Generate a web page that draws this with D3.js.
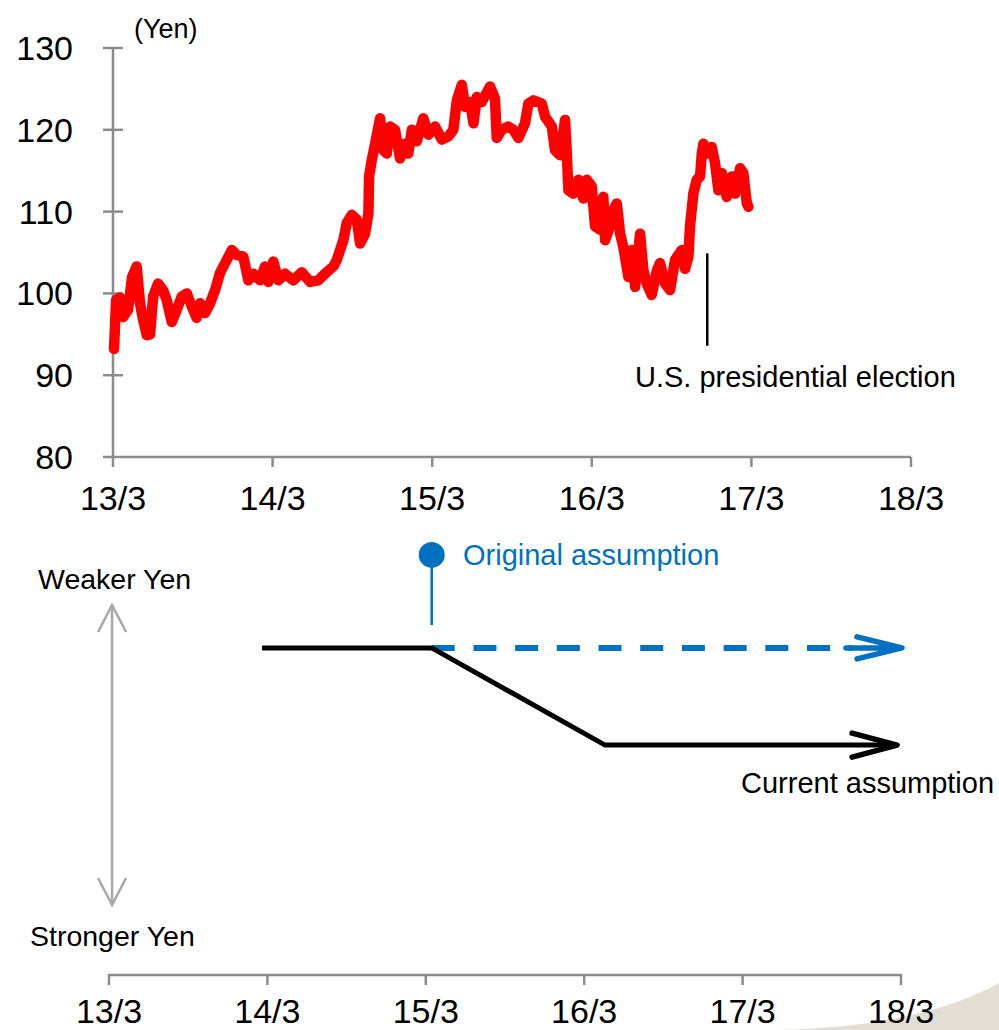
<!DOCTYPE html>
<html><head><meta charset="utf-8">
<script src="https://cdn.jsdelivr.net/npm/d3@7"></script>
<style>
body{margin:0;background:#fff}
svg{display:block;font-family:"Liberation Sans",Arial,Helvetica,sans-serif}
</style>
</head><body>
<svg id="c" width="999" height="1030"></svg>
<script>
// ---- Data (decimal years, yen per dollar) ----
const rateTime = [2013.173,2013.186,2013.211,2013.230,2013.261,2013.286,2013.315,2013.336,2013.353,2013.378,2013.399,2013.418,2013.449,2013.480,2013.503,2013.535,2013.566,2013.597,2013.629,2013.660,2013.691,2013.712,2013.743,2013.775,2013.806,2013.837,2013.869,2013.911,2013.942,2013.983,2014.015,2014.046,2014.088,2014.119,2014.140,2014.171,2014.203,2014.245,2014.297,2014.349,2014.401,2014.453,2014.506,2014.547,2014.569,2014.610,2014.631,2014.663,2014.694,2014.715,2014.746,2014.767,2014.771,2014.788,2014.809,2014.840,2014.861,2014.882,2014.903,2014.934,2014.965,2014.997,2015.017,2015.039,2015.070,2015.111,2015.143,2015.185,2015.227,2015.268,2015.299,2015.321,2015.352,2015.373,2015.404,2015.425,2015.446,2015.477,2015.529,2015.560,2015.571,2015.602,2015.644,2015.675,2015.707,2015.748,2015.769,2015.801,2015.853,2015.874,2015.916,2015.936,2015.968,2015.999,2016.010,2016.020,2016.051,2016.082,2016.114,2016.135,2016.166,2016.187,2016.218,2016.239,2016.250,2016.281,2016.302,2016.323,2016.344,2016.364,2016.396,2016.417,2016.438,2016.469,2016.490,2016.511,2016.542,2016.574,2016.594,2016.626,2016.657,2016.688,2016.730,2016.751,2016.772,2016.782,2016.803,2016.824,2016.845,2016.856,2016.866,2016.897,2016.918,2016.939,2016.960,2016.981,2017.012,2017.044,2017.064,2017.096,2017.116,2017.138,2017.148];
const rateValue = [93.2,99.2,99.5,97.1,98.0,102.0,103.3,98.8,97.0,94.9,95.0,99.6,101.2,100.4,99.2,96.5,98.0,99.6,100.0,98.4,97.0,98.8,97.6,98.8,100.4,102.5,103.7,105.3,104.7,104.5,101.6,102.4,101.6,103.3,101.4,103.9,101.6,102.4,101.6,102.6,101.4,101.6,102.6,103.3,104.1,106.5,108.6,109.6,109.0,106.1,107.3,109.8,114.3,116.3,118.3,121.4,117.5,117.1,120.4,120.0,116.5,118.3,117.1,120.0,118.6,121.4,119.4,120.4,118.8,119.2,120.0,123.6,125.5,122.8,123.4,120.8,124.0,123.4,125.3,123.8,119.0,120.0,120.4,120.0,119.0,120.8,123.2,123.6,123.2,121.6,120.4,117.5,116.9,121.2,117.2,112.6,112.2,113.9,111.6,113.9,113.1,108.2,107.8,111.8,106.5,108.2,110.2,111.0,107.3,105.7,102.0,105.3,100.8,107.3,102.8,101.2,99.8,102.8,103.7,101.2,100.4,104.1,105.3,103.0,104.5,108.2,112.2,113.9,114.3,117.1,118.3,117.1,117.9,115.9,112.6,114.7,111.8,114.3,112.2,115.3,114.7,111.0,110.6];

const yTickValues = [80, 90, 100, 110, 120, 130];
const xTickValues = [2013 + 2/12, 2014 + 2/12, 2015 + 2/12, 2016 + 2/12, 2017 + 2/12, 2018 + 2/12];
const xTickLabels = ["13/3", "14/3", "15/3", "16/3", "17/3", "18/3"];

const electionTime = 2016.89;
const electionRange = [93.6, 104.9];
const electionLabel = "U.S. presidential election";
const yUnitLabel = "(Yen)";

// schematic (bottom panel): level index 0 = stronger yen, 10 = weaker yen
const currentTimes = [2014.133, 2015.204, 2016.298, 2018.142];
const currentLevels = [8.57, 8.57, 5.33, 5.33];
const originalTimes = [2015.204, 2018.173];
const originalLevels = [8.57, 8.57];
const originalMarker = {time: 2015.204, top: 11.67, bottom: 9.33};
const currentLabel = "Current assumption";
const originalLabel = "Original assumption";
const weakerLabel = "Weaker Yen";
const strongerLabel = "Stronger Yen";

// ---- Drawing ----
const svg = d3.select("#c");
const axisColor = "#8c8c8c";
const blue = "#0070c0";
const tickFont = 34;
const noteFont = 29;

// decorative corner swoosh
svg.append("path")
  .attr("d", "M775,1030 C880,1028 950,1010 999,983 L999,1030 Z")
  .attr("fill", "#e2ded6");

// top panel scales
const xTop = d3.scaleLinear().domain([xTickValues[0], xTickValues[5]]).range([113, 911]);
const yTop = d3.scaleLinear().domain([80, 130]).range([457, 48]);

const gTop = svg.append("g");

// y axis
gTop.append("line").attr("x1", xTop.range()[0]).attr("x2", xTop.range()[0])
  .attr("y1", yTop(130)).attr("y2", yTop(80))
  .attr("stroke", axisColor).attr("stroke-width", 2.5);
gTop.selectAll(".yt").data(yTickValues).join("line")
  .attr("x1", xTop.range()[0] - 10).attr("x2", d => d === 80 ? xTop.range()[0] : xTop.range()[0] + 10)
  .attr("y1", d => yTop(d)).attr("y2", d => yTop(d))
  .attr("stroke", axisColor).attr("stroke-width", 2.5);
gTop.selectAll(".yl").data(yTickValues).join("text")
  .attr("x", 73).attr("y", d => yTop(d) + 12)
  .attr("text-anchor", "end").attr("font-size", tickFont).attr("fill", "#000")
  .text(d => d);

// x axis
gTop.append("line").attr("x1", xTop.range()[0]).attr("x2", xTop.range()[1])
  .attr("y1", yTop(80)).attr("y2", yTop(80))
  .attr("stroke", axisColor).attr("stroke-width", 2.5);
gTop.selectAll(".xt").data(xTickValues).join("line")
  .attr("x1", d => xTop(d)).attr("x2", d => xTop(d))
  .attr("y1", yTop(80)).attr("y2", yTop(80) + 10)
  .attr("stroke", axisColor).attr("stroke-width", 2.5);
gTop.selectAll(".xl").data(xTickValues).join("text")
  .attr("x", d => xTop(d)).attr("y", 510)
  .attr("text-anchor", "middle").attr("font-size", tickFont)
  .text((d, i) => xTickLabels[i]);

gTop.append("text").attr("x", 134).attr("y", 38).attr("font-size", 27).text(yUnitLabel);

// red line
const rateData = rateTime.map((t, i) => ({t, v: rateValue[i]}));
gTop.append("path").datum(rateData)
  .attr("fill", "none").attr("stroke", "#ff0000").attr("stroke-width", 10.5)
  .attr("stroke-linejoin", "round").attr("stroke-linecap", "round")
  .attr("d", d3.line().x(d => xTop(d.t)).y(d => yTop(d.v)));

// election marker
gTop.append("line")
  .attr("x1", xTop(electionTime)).attr("x2", xTop(electionTime))
  .attr("y1", yTop(electionRange[1])).attr("y2", yTop(electionRange[0]))
  .attr("stroke", "#000").attr("stroke-width", 2.5);
gTop.append("text").attr("x", 635).attr("y", 387).attr("font-size", noteFont).text(electionLabel);

// bottom panel scales
const xBot = d3.scaleLinear().domain([xTickValues[0], xTickValues[5]]).range([109, 901]);
const yBot = d3.scaleLinear().domain([0, 10]).range([905, 605]);
const gBot = svg.append("g");
const axisY = 975;

gBot.append("line").attr("x1", xBot.range()[0]).attr("x2", xBot.range()[1])
  .attr("y1", axisY).attr("y2", axisY).attr("stroke", axisColor).attr("stroke-width", 2.5);
gBot.selectAll(".bt").data(xTickValues).join("line")
  .attr("x1", d => xBot(d)).attr("x2", d => xBot(d))
  .attr("y1", axisY - 1).attr("y2", axisY + 10)
  .attr("stroke", axisColor).attr("stroke-width", 2.5);
gBot.selectAll(".bl").data(xTickValues).join("text")
  .attr("x", d => xBot(d)).attr("y", 1023)
  .attr("text-anchor", "middle").attr("font-size", tickFont)
  .text((d, i) => xTickLabels[i]);

// gray double arrow
const arrowX = xBot(2013.186);
const gray = "#a8a8a8";
gBot.append("line").attr("x1", arrowX).attr("x2", arrowX)
  .attr("y1", yBot(10)).attr("y2", yBot(0))
  .attr("stroke", gray).attr("stroke-width", 2.5);
gBot.append("path")
  .attr("d", `M${arrowX-14},${yBot(10)+27} L${arrowX},${yBot(10)} L${arrowX+14},${yBot(10)+27}`)
  .attr("fill", "none").attr("stroke", gray).attr("stroke-width", 2.5);
gBot.append("path")
  .attr("d", `M${arrowX-14},${yBot(0)-27} L${arrowX},${yBot(0)} L${arrowX+14},${yBot(0)-27}`)
  .attr("fill", "none").attr("stroke", gray).attr("stroke-width", 2.5);
gBot.append("text").attr("x", 38).attr("y", 589).attr("font-size", 28.5).text(weakerLabel);
gBot.append("text").attr("x", 30).attr("y", 946).attr("font-size", 28.5).text(strongerLabel);

// original assumption (blue dashed)
const oLine = d3.line().x(d => xBot(d.t)).y(d => yBot(d.v));
const oData = originalTimes.map((t, i) => ({t, v: originalLevels[i]}));
const oEndX = xBot(originalTimes[1]), oEndY = yBot(originalLevels[1]);
gBot.append("path").datum(oData)
  .attr("fill", "none").attr("stroke", blue).attr("stroke-width", 6)
  .attr("stroke-dasharray", "23,18.7")
  .attr("d", d => oLine([d[0], {t: xBot.invert(oEndX - 50), v: d[1].v}]));
gBot.append("path")
  .attr("d", `M${oEndX-56},${oEndY} L${oEndX-2},${oEndY} M${oEndX-45},${oEndY-11} L${oEndX},${oEndY} L${oEndX-45},${oEndY+11}`)
  .attr("fill", "none").attr("stroke", blue).attr("stroke-width", 5.5)
  .attr("stroke-linecap", "round").attr("stroke-linejoin", "round");

// marker pin
gBot.append("line")
  .attr("x1", xBot(originalMarker.time)).attr("x2", xBot(originalMarker.time))
  .attr("y1", yBot(originalMarker.top)).attr("y2", yBot(originalMarker.bottom))
  .attr("stroke", blue).attr("stroke-width", 2.5);
gBot.append("circle")
  .attr("cx", xBot(originalMarker.time)).attr("cy", yBot(originalMarker.top))
  .attr("r", 13).attr("fill", blue);
gBot.append("text").attr("x", 463).attr("y", 565).attr("font-size", noteFont)
  .attr("fill", blue).text(originalLabel);

// current assumption (black)
const cData = currentTimes.map((t, i) => ({t, v: currentLevels[i]}));
gBot.append("path").datum(cData)
  .attr("fill", "none").attr("stroke", "#000").attr("stroke-width", 5)
  .attr("d", d3.line().x(d => xBot(d.t)).y(d => yBot(d.v)));
const cEndX = xBot(currentTimes[3]), cEndY = yBot(currentLevels[3]);
gBot.append("path")
  .attr("d", `M${cEndX-45},${cEndY-12} L${cEndX},${cEndY} L${cEndX-45},${cEndY+12}`)
  .attr("fill", "none").attr("stroke", "#000").attr("stroke-width", 5.5)
  .attr("stroke-linecap", "round").attr("stroke-linejoin", "round");
gBot.append("text").attr("x", 741).attr("y", 793).attr("font-size", noteFont).text(currentLabel);
</script>
</body></html>
